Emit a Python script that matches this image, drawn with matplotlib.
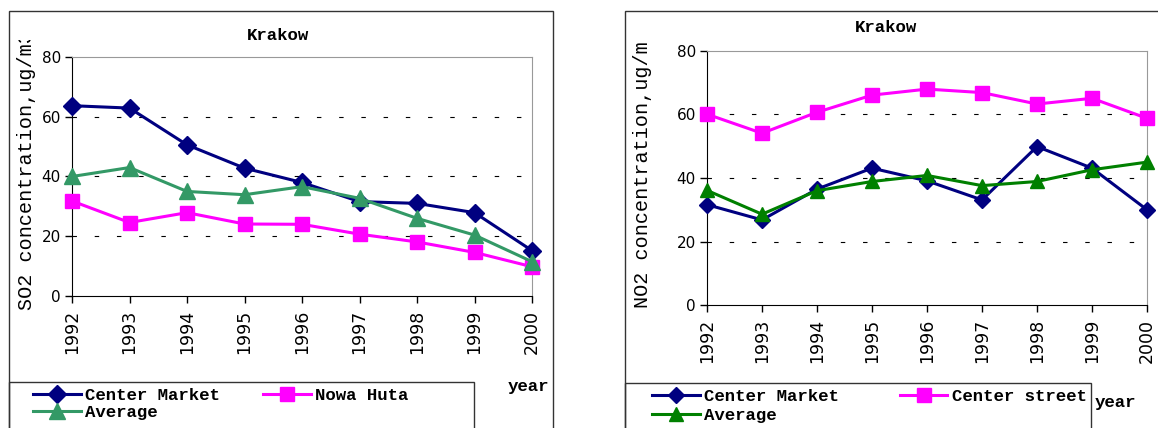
import matplotlib.pyplot as plt
from matplotlib.patches import Rectangle
from matplotlib.transforms import Bbox, TransformedBbox

years = [1992, 1993, 1994, 1995, 1996, 1997, 1998, 1999, 2000]
year_labels = [str(y) for y in years]

# SO2 (left panel)
so2_center_market = [63.7, 62.9, 50.6, 42.8, 38.0, 31.6, 31.0, 27.9, 15.2]
so2_nowa_huta = [31.8, 24.6, 27.9, 24.1, 24.0, 20.7, 18.1, 14.6, 9.8]
so2_average = [40.0, 43.0, 35.0, 33.9, 36.6, 32.7, 26.0, 20.4, 11.5]

# NO2 (right panel)
no2_center_market = [31.6, 26.8, 36.5, 43.1, 39.1, 33.1, 49.9, 43.1, 30.0]
no2_center_street = [60.1, 54.1, 60.7, 66.1, 68.0, 66.9, 63.3, 65.1, 58.8]
no2_average = [36.1, 28.6, 36.0, 38.9, 40.8, 37.6, 38.9, 42.6, 45.0]

yticks = [0, 20, 40, 60, 80]

W, H = 1158, 428
fig = plt.figure(figsize=(W / 100, H / 100), dpi=100)

MONO = "Liberation Mono"


def px_box(x0, y0, x1, y1):
    # pixel box (top-left origin) -> figure fraction [l, b, w, h]
    return [x0 / W, 1 - y1 / H, (x1 - x0) / W, (y1 - y0) / H]


def frame(x0, y0, x1, y1, color="#333333"):
    fig.add_artist(Rectangle((x0 / W, 1 - y1 / H), (x1 - x0) / W, (y1 - y0) / H,
                             transform=fig.transFigure, fill=False,
                             edgecolor=color, linewidth=1.0, clip_on=False))


def panel(ax, series):
    handles = []
    for vals, color, marker, size in series:
        h, = ax.plot(years, vals, color=color, marker=marker, markersize=size,
                     linewidth=2.2, markeredgecolor=color, clip_on=False, zorder=3)
        handles.append(h)
    ax.set_xlim(1992, 2000)
    ax.set_ylim(0, 80)
    ax.set_yticks(yticks)
    ax.set_xticks(years)
    ax.set_xticklabels(year_labels, rotation=90, family="DejaVu Sans", fontsize=12.5)
    for lab in ax.get_yticklabels():
        lab.set_fontsize(11)
        lab.set_family("DejaVu Sans")
    ax.tick_params(axis="both", direction="out", length=5, width=1, color="black", pad=3)
    ax.tick_params(axis="x", pad=5)
    for y in yticks[1:-1]:
        ax.axhline(y, color="black", linewidth=0.8, dashes=(4, 16), zorder=1)
    ax.spines["left"].set_color("black")
    ax.spines["bottom"].set_color("black")
    ax.spines["top"].set_color("#999999")
    ax.spines["right"].set_color("#999999")
    return handles


# ---------------- left panel ----------------
frame(9, 11, 553, 460)
frame(9, 382, 474, 460)
ax1 = fig.add_axes(px_box(72, 57, 532, 296))
h1 = panel(ax1, [(so2_center_market, "#000080", "D", 9.5),
                 (so2_nowa_huta, "#FF00FF", "s", 10),
                 (so2_average, "#339966", "^", 11)])
fig.text(278 / W, 1 - 36 / H, "Krakow", ha="center", va="center",
         family=MONO, fontweight="bold", fontsize=12.5)
t = fig.text(27 / W, 1 - 310 / H, "SO2 concentration,ug/m3", rotation=90,
             ha="center", va="bottom", family=MONO, fontsize=14.5)
t.set_clip_box(TransformedBbox(Bbox([[0, 0], [1, 1 - 40 / H]]), fig.transFigure))
t.set_clip_on(True)
fig.text(528 / W, 1 - 386 / H, "year", ha="center", va="center",
         family=MONO, fontweight="bold", fontsize=12.5)
fig.legend([h1[0], h1[2], h1[1]], ["Center Market", "Average", "Nowa Huta"],
           loc="upper left", bbox_to_anchor=(33 / W, 1 - 388 / H), ncol=2,
           frameon=False, prop={"family": MONO, "weight": "bold", "size": 12.5},
           handlelength=2.75, handletextpad=0.25, columnspacing=2.5,
           labelspacing=0.12, borderpad=0, borderaxespad=0)

# ---------------- right panel ----------------
frame(625, 11, 1200, 460)
frame(625, 383, 1091, 460)
ax2 = fig.add_axes(px_box(707, 51, 1147, 305))
h2 = panel(ax2, [(no2_center_market, "#000080", "D", 8.5),
                 (no2_center_street, "#FF00FF", "s", 9.5),
                 (no2_average, "#008000", "^", 10)])
fig.text(886 / W, 1 - 28 / H, "Krakow", ha="center", va="center",
         family=MONO, fontweight="bold", fontsize=12.5)
t = fig.text(643 / W, 1 - 308 / H, "NO2 concentration,ug/m3", rotation=90,
             ha="center", va="bottom", family=MONO, fontsize=14.5)
t.set_clip_box(TransformedBbox(Bbox([[0, 0], [1, 1 - 42 / H]]), fig.transFigure))
t.set_clip_on(True)
fig.text(1115 / W, 1 - 402 / H, "year", ha="center", va="center",
         family=MONO, fontweight="bold", fontsize=12.5)
fig.legend([h2[0], h2[2], h2[1]], ["Center Market", "Average", "Center street"],
           loc="upper left", bbox_to_anchor=(652 / W, 1 - 389 / H), ncol=2,
           frameon=False, prop={"family": MONO, "weight": "bold", "size": 12.5},
           handlelength=2.75, handletextpad=0.25, columnspacing=3.5,
           labelspacing=0.2, borderpad=0, borderaxespad=0)

fig.savefig("out.png", dpi=100)
